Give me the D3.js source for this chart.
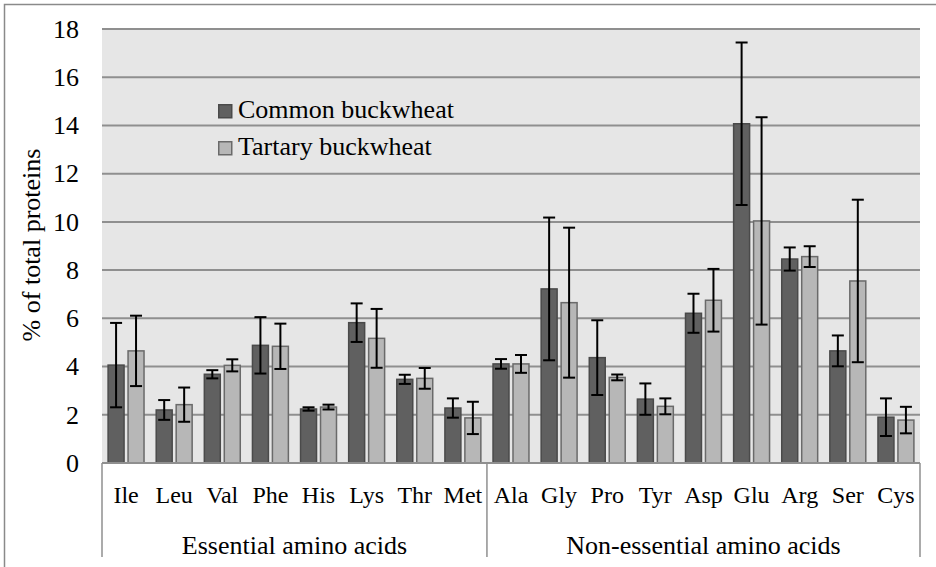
<!DOCTYPE html>
<html>
<head>
<meta charset="utf-8">
<script src="https://cdn.jsdelivr.net/npm/d3@7"></script>
<style>
  body { margin: 0; background: #fff; }
  #chart text { font-family: "Liberation Serif", "Times New Roman", Tinos, "DejaVu Serif", serif; fill: #000; }
</style>
</head>
<body>
<svg id="chart" width="936" height="567"></svg>
<script>
// amino acid composition, % of total proteins
const categories = ["Ile", "Leu", "Val", "Phe", "His", "Lys", "Thr", "Met",
    "Ala", "Gly", "Pro", "Tyr", "Asp", "Glu", "Arg", "Ser", "Cys"];
const seriesNames = ["Common buckwheat", "Tartary buckwheat"];
const common = [4.06, 2.20, 3.68, 4.88, 2.24, 5.82, 3.47, 2.28, 4.11, 7.22, 4.37, 2.65, 6.21, 14.07, 8.46, 4.65, 1.90];
const commonErr = [1.75, 0.41, 0.17, 1.17, 0.07, 0.80, 0.19, 0.40, 0.20, 2.96, 1.55, 0.65, 0.81, 3.37, 0.48, 0.64, 0.78];
const tartary = [4.65, 2.42, 4.05, 4.84, 2.32, 5.17, 3.51, 1.87, 4.11, 6.65, 3.55, 2.35, 6.75, 10.04, 8.56, 7.55, 1.78];
const tartaryErr = [1.46, 0.71, 0.25, 0.94, 0.10, 1.22, 0.43, 0.67, 0.37, 3.11, 0.12, 0.33, 1.30, 4.30, 0.43, 3.37, 0.55];
const groupNames = ["Essential amino acids", "Non-essential amino acids"];
const groupSizes = [8, 9];
const yTicks = [0, 2, 4, 6, 8, 10, 12, 14, 16, 18];

(function () {
    const svg = d3.select("#chart");
    const FONT = "'Liberation Serif', 'Times New Roman', Tinos, 'DejaVu Serif', serif";
    const M = { top: 29, left: 102, right: 16, bottom: 104 };
    const W = 936 - M.left - M.right;
    const H = 567 - M.top - M.bottom;

    const fills = ["#606060", "#b7b7b7"];
    const strokes = ["#4a4a4a", "#6a6a6a"];

    // outer frame (runs off right/bottom edge like the source)
    svg.append("path")
        .attr("d", "M4.5,567V4.5H936")
        .attr("fill", "none").attr("stroke", "#8a8a8a").attr("stroke-width", 1.5);

    const g = svg.append("g").attr("transform", `translate(${M.left},${M.top})`);

    const x = d3.scaleBand().domain(categories).range([0, W]).padding(0);
    const xs = d3.scaleBand().domain([0, 1]).range([0, x.bandwidth()])
        .paddingInner(0.15).paddingOuter(0.28);
    const y = d3.scaleLinear().domain([0, 18]).range([H, 0]);

    // plot background
    g.append("rect").attr("width", W).attr("height", H).attr("fill", "#e6e6e6");

    // gridlines + y tick labels
    const yAxis = g.append("g")
        .call(d3.axisLeft(y).tickValues(yTicks).tickSize(0).tickPadding(23).tickFormat(d3.format("d")));
    yAxis.attr("font-family", FONT);
    yAxis.select(".domain").remove();
    yAxis.selectAll("text").attr("font-size", 26).attr("font-family", FONT).attr("fill", "#000");
    g.append("g").selectAll("line").data(yTicks).join("line")
        .attr("x1", 0).attr("x2", W)
        .attr("y1", d => y(d)).attr("y2", d => y(d))
        .attr("stroke", "#8f8f8f").attr("stroke-width", 2);

    // bars
    const rows = categories.map((c, i) => ({
        cat: c,
        vals: [{ s: 0, v: common[i], e: commonErr[i] }, { s: 1, v: tartary[i], e: tartaryErr[i] }]
    }));
    const cg = g.append("g").selectAll("g").data(rows).join("g")
        .attr("transform", d => `translate(${x(d.cat)},0)`);
    cg.selectAll("rect").data(d => d.vals).join("rect")
        .attr("x", d => xs(d.s) + 0.5)
        .attr("width", xs.bandwidth() - 1)
        .attr("y", d => y(d.v))
        .attr("height", d => H - y(d.v))
        .attr("fill", d => fills[d.s])
        .attr("stroke", d => strokes[d.s])
        .attr("stroke-width", 1.5);

    // error bars
    const cap = 6;
    const eb = cg.selectAll("g.err").data(d => d.vals).join("g").attr("class", "err")
        .attr("stroke", "#000").attr("stroke-width", 2);
    eb.append("line")
        .attr("x1", d => xs(d.s) + xs.bandwidth() / 2).attr("x2", d => xs(d.s) + xs.bandwidth() / 2)
        .attr("y1", d => y(d.v + d.e)).attr("y2", d => y(d.v - d.e));
    eb.append("line")
        .attr("x1", d => xs(d.s) + xs.bandwidth() / 2 - cap).attr("x2", d => xs(d.s) + xs.bandwidth() / 2 + cap)
        .attr("y1", d => y(d.v + d.e)).attr("y2", d => y(d.v + d.e));
    eb.append("line")
        .attr("x1", d => xs(d.s) + xs.bandwidth() / 2 - cap).attr("x2", d => xs(d.s) + xs.bandwidth() / 2 + cap)
        .attr("y1", d => y(d.v - d.e)).attr("y2", d => y(d.v - d.e));

    // category axis
    g.append("line").attr("x1", 0).attr("x2", W).attr("y1", H).attr("y2", H)
        .attr("stroke", "#8f8f8f").attr("stroke-width", 2);
    const xAxis = g.append("g").attr("transform", `translate(0,${H})`)
        .call(d3.axisBottom(x).tickSize(0).tickPadding(0));
    xAxis.attr("font-family", FONT);
    xAxis.select(".domain").remove();
    xAxis.selectAll("text")
        .attr("dy", null).attr("y", 40)
        .attr("font-size", 24).attr("font-family", FONT).attr("fill", "#000");

    // group brackets
    let start = 0;
    const bounds = [0];
    groupSizes.forEach(n => { start += n; bounds.push(start); });
    const bx = i => i < categories.length ? x(categories[i]) : W;
    g.append("g").selectAll("line").data(bounds).join("line")
        .attr("x1", i => bx(i)).attr("x2", i => bx(i))
        .attr("y1", H).attr("y2", H + 94)
        .attr("stroke", "#8f8f8f").attr("stroke-width", 1.5);
    g.append("g").selectAll("text").data(groupNames).join("text")
        .attr("x", (d, i) => (bx(bounds[i]) + bx(bounds[i + 1])) / 2)
        .attr("y", H + 91)
        .attr("text-anchor", "middle")
        .attr("font-family", FONT)
        .attr("font-size", 26)
        .text(d => d);

    // y title
    svg.append("text")
        .attr("transform", "translate(40,245) rotate(-90)")
        .attr("text-anchor", "middle")
        .attr("font-family", FONT)
        .attr("font-size", 26)
        .text("% of total proteins");

    // legend
    const lg = svg.append("g").selectAll("g").data(seriesNames).join("g")
        .attr("transform", (d, i) => `translate(218,${104 + i * 37})`);
    lg.append("rect").attr("x", 0.75).attr("y", 0.75).attr("width", 13).attr("height", 13)
        .attr("fill", (d, i) => fills[i]).attr("stroke", (d, i) => strokes[i]).attr("stroke-width", 1.5);
    lg.append("text").attr("x", 20).attr("y", 14).attr("font-family", FONT).attr("font-size", 26).text(d => d);
})();
</script>
</body>
</html>
